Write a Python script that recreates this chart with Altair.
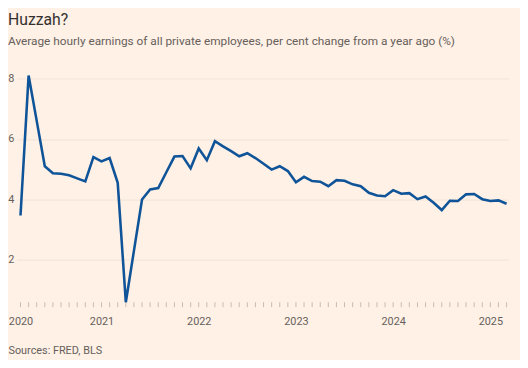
import altair as alt
import pandas as pd

# Monthly observations, March 2020 – March 2025
months = pd.date_range("2020-03-01", "2025-03-01", freq="MS")
wage_growth = [
    3.47, 8.10, 6.60, 5.10, 4.87, 4.85, 4.80, 4.70, 4.60, 5.40,
    5.26, 5.37, 4.55, 0.60, 2.30, 4.00, 4.33, 4.38, 4.90, 5.42, 5.44, 5.03,
    5.69, 5.30, 5.93, 5.76, 5.60, 5.43, 5.53, 5.37, 5.18, 4.99, 5.10, 4.94,
    4.57, 4.75, 4.61, 4.59, 4.44, 4.64, 4.62, 4.50, 4.44, 4.22, 4.13, 4.11,
    4.31, 4.19, 4.21, 4.01, 4.10, 3.89, 3.65, 3.96, 3.95, 4.17, 4.18, 4.01,
    3.95, 3.97, 3.86,
]
y_ticks = [2, 4, 6, 8]

frac_year = [d.year + (d.month - 1) / 12 for d in months]
df = pd.DataFrame({"t": frac_year, "value": wage_growth})

BG = "#FFF1E5"
GREY = "#66605C"
DARK = "#33302E"
FONT = "Roboto"

x_min = frac_year[0] - 0.45 / 12
x_max = frac_year[-1] + 0.2 / 12

x_scale = alt.Scale(domain=[x_min, x_max], nice=False, zero=False)
x_axis = alt.Axis(
    values=frac_year,
    labelExpr="(datum.value == floor(datum.value) || datum.value < 2020.2) ? format(floor(datum.value), 'd') : ''",
    domain=False,
    grid=False,
    ticks=False,
    labelFont=FONT,
    labelFontSize=11,
    labelColor=GREY,
    labelPadding=13.5,
    labelFlush=False,
    labelOverlap=False,
    title="Sources: FRED, BLS",
    titleFont=FONT,
    titleFontSize=11,
    titleFontWeight="normal",
    titleColor=GREY,
    titleAnchor="start",
    titleAlign="left",
    titleBaseline="alphabetic",
    titleX=-9,
    titleY=52,
)
x_enc = alt.X("t:Q", scale=x_scale, axis=x_axis)

y_axis = alt.Axis(
    values=y_ticks,
    domain=False,
    ticks=False,
    grid=True,
    gridColor="#F0E3D8",
    gridWidth=1,
    labelFont=FONT,
    labelFontSize=11,
    labelColor=GREY,
    labelPadding=3,
    title=None,
)

# monthly tick marks below the plot
month_ticks = (
    alt.Chart(df)
    .mark_rule(color="#C9BCB1", strokeWidth=1)
    .encode(
        x=x_enc,
        y=alt.value(233.3),
        y2=alt.value(238.3),
    )
)

line = (
    alt.Chart(df)
    .mark_line(color="#0F5499", strokeWidth=2.6)
    .encode(
        x=x_enc,
        y=alt.Y(
            "value:Q",
            scale=alt.Scale(domain=[0.6, 8.2], nice=False, zero=False),
            axis=y_axis,
        ),
    )
)

chart = (
    alt.layer(month_ticks, line)
    .properties(
        width=499,
        height=233.3,
        autosize=alt.AutoSizeParams(type="none"),
        padding={"left": 9, "top": 62.8, "right": 12, "bottom": 56},
        background=BG,
        title=alt.TitleParams(
            text="Huzzah?",
            subtitle="Average hourly earnings of all private employees, per cent change from a year ago (%)",
            anchor="start",
            frame="group",
            dx=-9,
            offset=24,
            font=FONT,
            fontSize=16,
            fontWeight="normal",
            color=DARK,
            subtitleFont=FONT,
            subtitleFontSize=12,
            subtitleColor=GREY,
            subtitlePadding=8,
        ),
    )
    .configure_view(stroke=None)
)

chart.save("out.html", embed_options={"renderer": "svg", "actions": False})
